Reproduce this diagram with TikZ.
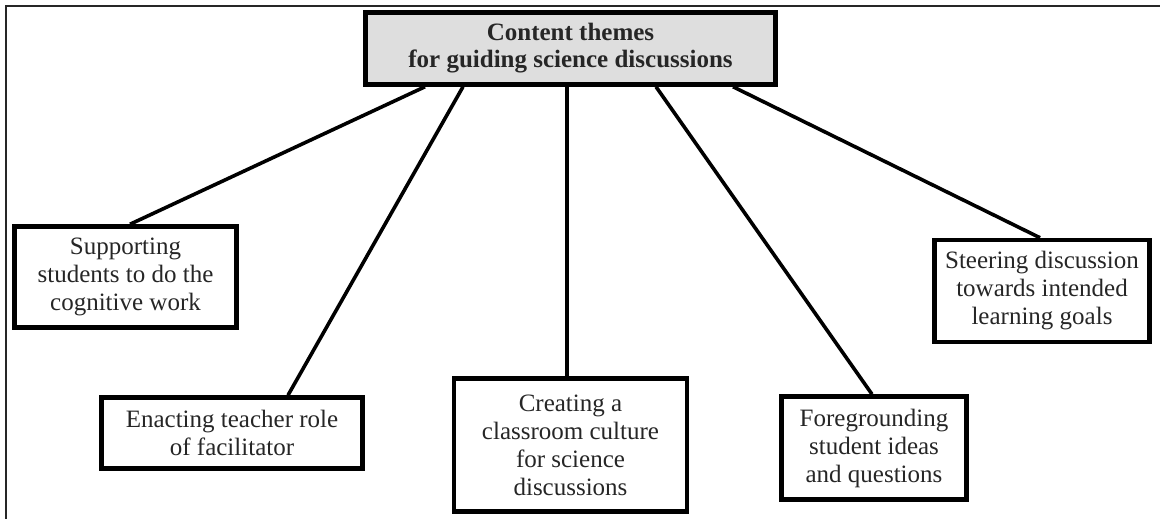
\documentclass[tikz,border=0pt]{standalone}
\usepackage{fontspec}
\setmainfont{Liberation Serif}
\begin{document}
\begin{tikzpicture}[x=1pt,y=-1pt,
  frameline/.style={line width=2.5pt,black!85},
  themebox/.style={draw,line width=4.5pt,inner sep=0pt,align=center,
    font=\fontsize{25}{28}\selectfont,text=black!85},
  headbox/.style={themebox,fill=black!13,font=\fontsize{25}{27}\selectfont\bfseries},
  link/.style={line width=3.6pt}]
\useasboundingbox (0,0) rectangle (1160,519);
% partial frame: top and left edges
\coordinate (fa) at (6,519);
\coordinate (fb) at (6,6);
\coordinate (fc) at (1160,6);
\draw[frameline] (fa) -- (fb) -- (fc);

% central heading
\node[headbox,minimum width=410,minimum height=72] (top) at (570.5,48.5)
  {Content themes\\for guiding science discussions};

% the five themes
\node[themebox,minimum width=222,minimum height=101] (sup) at (125.5,277)
  {Supporting\\students to do the\\cognitive work};
\node[themebox,minimum width=261,minimum height=71] (ena) at (232,433)
  {Enacting teacher role\\of facilitator};
\node[themebox,minimum width=233,minimum height=133] (cre) at (570.5,445)
  {Creating a\\classroom culture\\for science\\discussions};
\node[themebox,minimum width=185,minimum height=103] (fore) at (874,448)
  {Foregrounding\\student ideas\\and questions};
\node[themebox,minimum width=215,minimum height=102] (ste) at (1042,291)
  {Steering discussion\\towards intended\\learning goals};

% connectors from the heading to each theme
\draw[link] ([xshift=-145.5]top.south) -- ([xshift=4.5]sup.north);
\draw[link] ([xshift=-107.5]top.south) -- ([xshift=56]ena.north);
\draw[link] ([xshift=-3.5]top.south) -- ([xshift=-3.5]cre.north);
\draw[link] ([xshift=85.5]top.south) -- ([xshift=-2]fore.north);
\draw[link] ([xshift=162.5]top.south) -- ([xshift=-2]ste.north);
\end{tikzpicture}
\end{document}
